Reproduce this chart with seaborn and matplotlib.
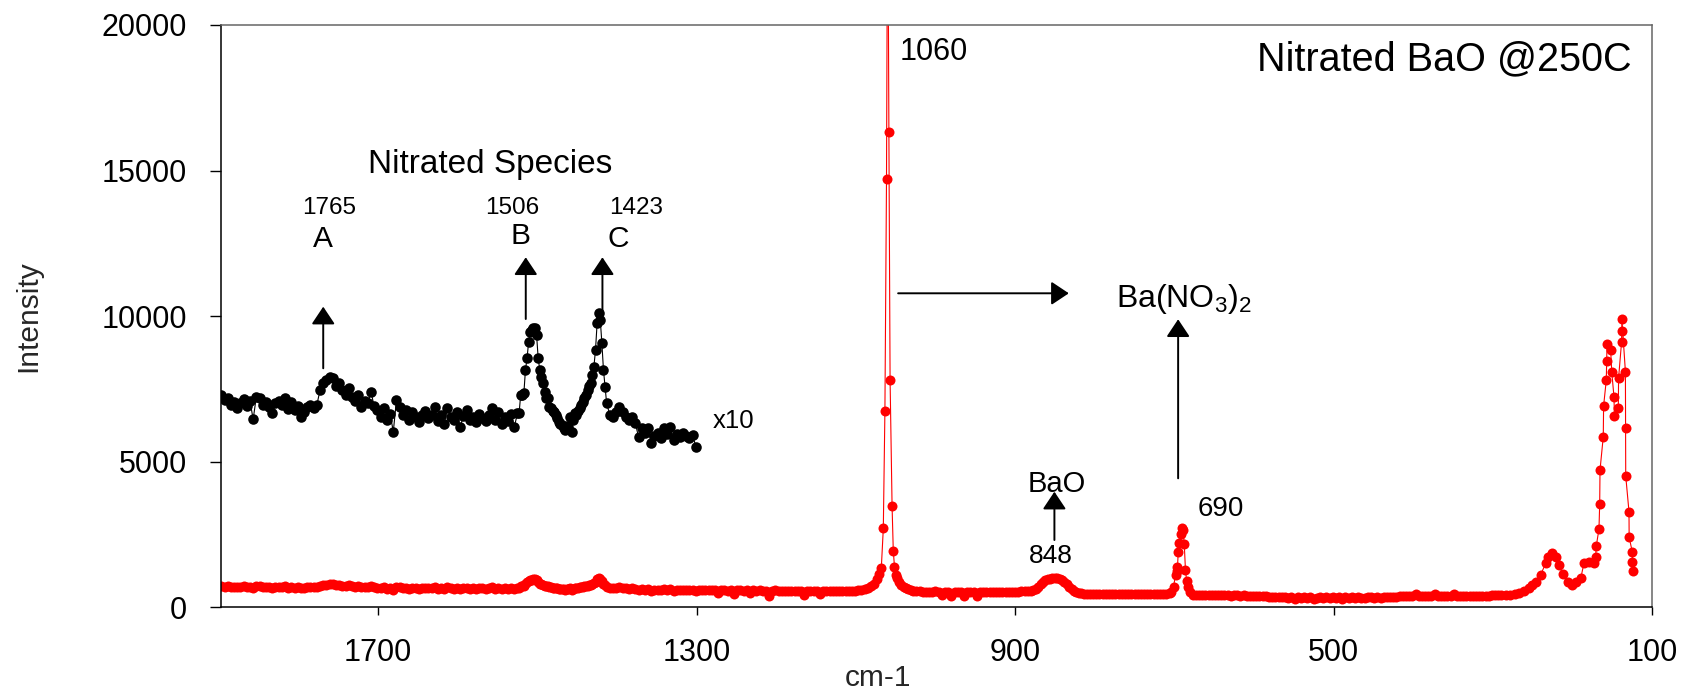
import numpy as np
import pandas as pd
import matplotlib
matplotlib.use("Agg")
import matplotlib.pyplot as plt
import seaborn as sns

# ------------------------------------------------------------------ data
# Nitrated-species window (plotted x10 in black); wavenumber grid in cm-1
black_start_a, black_step_a = 1897, 4
black_v_a = [7290, 7120, 7200, 6950, 7050, 6830, 7000, 7150, 6900, 7080, 6460, 7230,
             7180, 6960, 7050, 6870, 6660, 7000, 7100, 6950, 7180, 6800, 7050, 6780,
             6900, 6550, 6700, 6880, 6950, 6850, 6950,
             7460, 7700, 7810, 7920, 7860, 7600, 7700, 7460, 7300, 7520, 7230, 7100,
             7300, 6890, 7100, 7000, 7400, 6900, 6780,
             6550, 6850, 6430, 6650, 6030, 7120, 6890, 6600, 6780, 6450, 6700, 6550,
             6380, 6600, 6750, 6500, 6620, 6890, 6400, 6600, 6300, 6830, 6550, 6450,
             6700, 6200, 6560, 6780, 6450, 6550, 6350, 6650, 6500, 6400, 6600, 6830,
             6450, 6700, 6300, 6550, 6400, 6650, 6200, 6660]
black_start_b, black_step_b = 1523, 2
black_v_b = [6660, 7290, 7300, 7350, 8150, 8550, 9120, 9450, 9520, 9600, 9580, 9350,
             8550, 8150, 7900, 7690, 7400, 7200, 7180, 6890, 6850, 6750, 6700, 6600,
             6500, 6380, 6300, 6260, 6150, 6100, 6210, 6200, 6550, 6030, 6450, 6660,
             6600, 6750, 6830, 6950, 7050, 7180, 7300, 7460, 7600, 7690, 7980, 8270,
             8840, 9750, 10100, 9870, 9070, 8150, 7580, 7000]
black_start_c, black_step_c = 1409, 4
black_v_c = [6610, 6550, 6720, 6890, 6700, 6550, 6450, 6550, 6320, 5860, 6150, 6000,
             6150, 5630, 5900, 5980, 5800, 6150, 5950, 6200, 5750, 5950, 5850, 5980,
             5900, 5800, 5920, 5520]
scale_factor = 10  # black trace is the red trace x10

# Full spectrum (red), below 1300 cm-1
red_start_1, red_step_1 = 1297, 4
red_v_1 = [590, 600, 585, 595, 580, 590, 480, 585, 590, 575, 590, 470, 580, 590, 575,
           580, 490, 585, 570, 580, 575, 570, 400, 575, 580, 570, 565, 575, 570, 560,
           575, 570, 570, 430, 565, 570, 560, 570, 450, 565, 560, 570, 555, 565, 560,
           555, 565, 560, 560, 570, 580, 600, 620, 650, 720]
peak1060_w = [1077, 1074, 1071, 1068, 1065.5, 1063.5, 1061.5, 1060, 1058.5, 1057, 1054.5,
              1053, 1051.5, 1050, 1048, 1046, 1043, 1040, 1037, 1034, 1031]
peak1060_v = [800, 970, 1150, 1360, 2710, 6740, 14700, 26000, 16340, 7810, 3480,
              1950, 1400, 1110, 995, 880, 766, 700, 652, 620, 594]
red_start_3, red_step_3 = 1028, 4
red_v_3 = [570, 550, 545, 540, 535, 540, 530, 545, 535, 420, 540, 530, 380, 535, 540,
           530, 400, 535, 530, 540, 380, 530, 535, 525, 540, 530, 535, 525, 530, 540,
           530, 535, 540, 540, 545, 545, 550]
bao_start, bao_step = 880, 3
bao_v = [560, 580, 620, 700, 790, 870, 930, 960, 980, 1000, 990, 1000, 980, 940, 870,
         790, 700, 630, 570, 530, 500, 480, 470]
red_start_5, red_step_5 = 810, 4
red_v_5 = [465, 470, 465, 460, 455, 460, 450, 455, 460, 455, 450, 455, 450, 445, 455,
           450, 445, 450, 455, 445, 450, 455, 460, 455, 460, 470, 490]
peak690_w = [704, 701, 698.5, 697, 696, 695, 693.5, 692, 690.5, 689, 687.5, 686, 684.5, 683, 680]
peak690_v = [520, 710, 1100, 1230, 1400, 1910, 2220, 2520, 2720, 2650, 2170, 1280, 900, 710, 520]
red_start_7, red_step_7 = 677, 4
red_v_7 = [430, 420, 425, 415, 420, 425, 410, 420, 415, 420, 410, 415, 405, 420, 410,
           400, 410, 405, 395, 400, 390, 395, 380, 385, 370, 360, 350, 355, 340, 345,
           330, 340, 300, 340, 335, 345, 330, 340, 280, 335, 340, 330, 345, 335, 340,
           330, 345, 290, 340, 335, 345, 330, 340, 335, 330, 340, 345, 335, 340, 330,
           345, 340, 350, 355, 365, 380, 385, 380, 390, 385, 440, 390, 385, 395, 390,
           385, 450, 390, 385, 395, 390, 385, 440, 390, 385, 395, 390, 385, 395, 390,
           400, 395, 400, 405, 410, 415, 420]
low_w = [290, 284, 278, 272, 267, 261, 255, 250.5, 246, 240, 233.5, 230.5, 226, 221, 217,
         212, 206, 201, 195, 189.5, 185.5, 179, 173, 170.7, 170, 166.6, 165.7, 165.3,
         161.2, 160.8, 157.4, 156.9, 156.5, 151.9, 150.6, 147.7, 147.3, 142.3, 142,
         138.2, 138, 137.8, 133.4, 133.2, 133, 128.9, 128.7, 124.8, 124.6, 124.4]
low_v = [420, 425, 430, 440, 480, 560, 651, 766, 880, 1110, 1510, 1717, 1855, 1740, 1453,
         1144, 880, 766, 880, 995, 1510, 1567, 1510, 1740, 2105, 2690, 3550, 4715,
         5860, 6915, 7807, 8470, 9043, 8837, 8093, 7213, 6570, 6835, 7865,
         9122, 9500, 9890, 8093, 6148, 4510, 3285, 2405, 1910, 1545, 1247]

x_ticks = [1700, 1300, 900, 500, 100]
y_ticks = [0, 5000, 10000, 15000, 20000]


def grid(start, step, vals):
    return start - step * np.arange(len(vals))


black_w = np.concatenate([grid(black_start_a, black_step_a, black_v_a),
                          grid(black_start_b, black_step_b, black_v_b),
                          grid(black_start_c, black_step_c, black_v_c)])
black_v = np.array(black_v_a + black_v_b + black_v_c, dtype=float)

red_w = np.concatenate([black_w,
                        grid(red_start_1, red_step_1, red_v_1),
                        np.array(peak1060_w),
                        grid(red_start_3, red_step_3, red_v_3),
                        grid(bao_start, bao_step, bao_v),
                        grid(red_start_5, red_step_5, red_v_5),
                        np.array(peak690_w),
                        grid(red_start_7, red_step_7, red_v_7),
                        np.array(low_w)])
red_v = np.concatenate([black_v / scale_factor, red_v_1, peak1060_v, red_v_3, bao_v,
                        red_v_5, peak690_v, red_v_7, low_v]).astype(float)

df_red = pd.DataFrame({"cm-1": red_w, "Intensity": red_v})
df_black = pd.DataFrame({"cm-1": black_w, "Intensity": black_v})

# ------------------------------------------------------------------ style
sns.set_style("ticks")
plt.rcParams["font.family"] = ["Liberation Sans", "DejaVu Sans"]
plt.rcParams["mathtext.default"] = "regular"

fig = plt.figure(figsize=(16.84, 6.92), dpi=100)
ax = fig.add_axes([221 / 1684, (692 - 607.3) / 692, (1652 - 221) / 1684, (607.3 - 25) / 692])

sns.lineplot(data=df_red, x="cm-1", y="Intensity", sort=False, estimator=None,
             color="#ff0000", linewidth=0.8, marker="o", markersize=7.2,
             markeredgewidth=0, ax=ax)
sns.lineplot(data=df_black, x="cm-1", y="Intensity", sort=False, estimator=None,
             color="black", linewidth=0.8, marker="o", markersize=7.6,
             markeredgewidth=0, ax=ax)

ax.set_xlim(1897.4, 100)
ax.set_ylim(0, 20000)
ax.set_xticks(x_ticks)
ax.set_yticks(y_ticks)
ax.set_xticklabels([str(t) for t in x_ticks])
ax.set_yticklabels([str(t) for t in y_ticks])
ax.tick_params(axis="y", direction="out", length=7.9, width=1, pad=16.6,
               labelsize=22, colors="black")
ax.tick_params(axis="x", direction="out", length=5.8, width=1, pad=16.3,
               labelsize=22, colors="black")
for side in ["left", "bottom"]:
    ax.spines[side].set_color("black")
    ax.spines[side].set_linewidth(1.1)
for side in ["top", "right"]:
    ax.spines[side].set_visible(True)
    ax.spines[side].set_color("#666666")
    ax.spines[side].set_linewidth(1.1)

ax.set_ylabel("Intensity", fontsize=21.5)
ax.yaxis.set_label_coords(-0.125, 0.5)
ax.set_xlabel("cm-1", fontsize=21.5)
ax.xaxis.set_label_coords(0.459, -0.097)

# ------------------------------------------------------------------ annotations
def label(s, w, v, size, ha="center"):
    ax.text(w, v, s, fontsize=size, ha=ha, va="baseline", color="black")


def arrow(base, tip):
    ax.annotate("", xy=tip, xytext=base,
                arrowprops=dict(arrowstyle="-|>,head_length=0.75,head_width=0.5",
                                mutation_scale=14.4, lw=1.4, color="black",
                                shrinkA=0, shrinkB=0))


label("Nitrated Species", 1559.8, 14906, 24)
label("1765", 1762, 13509, 17.5)
label("A", 1769.5, 12385, 21.5)
label("1506", 1532, 13509, 17.5)
label("B", 1521, 12478, 21.5)
label("1423", 1376.5, 13509, 17.5)
label("C", 1399, 12375, 21.5)
label("x10", 1280, 6148, 18.5, ha="left")
label("1060", 1044.8, 18797, 22, ha="left")
label("Nitrated BaO @250C", 125, 18430, 28.5, ha="right")
label("Ba(NO$_3$)$_2$", 773, 10304, 23, ha="left")
label("BaO", 848, 3970, 21)
label("848", 855.2, 1511, 19)
label("690", 641, 3136, 20)

arrow((1769, 8209), (1769, 10325))
arrow((1514.6, 9902), (1514.6, 12021))
arrow((1418.3, 10098), (1418.3, 12021))
arrow((1046.9, 10785), (832.5, 10785))
arrow((695.2, 4430), (695.2, 9892))
arrow((850.6, 2311), (850.6, 3970))

fig.savefig("out.png", dpi=100)
